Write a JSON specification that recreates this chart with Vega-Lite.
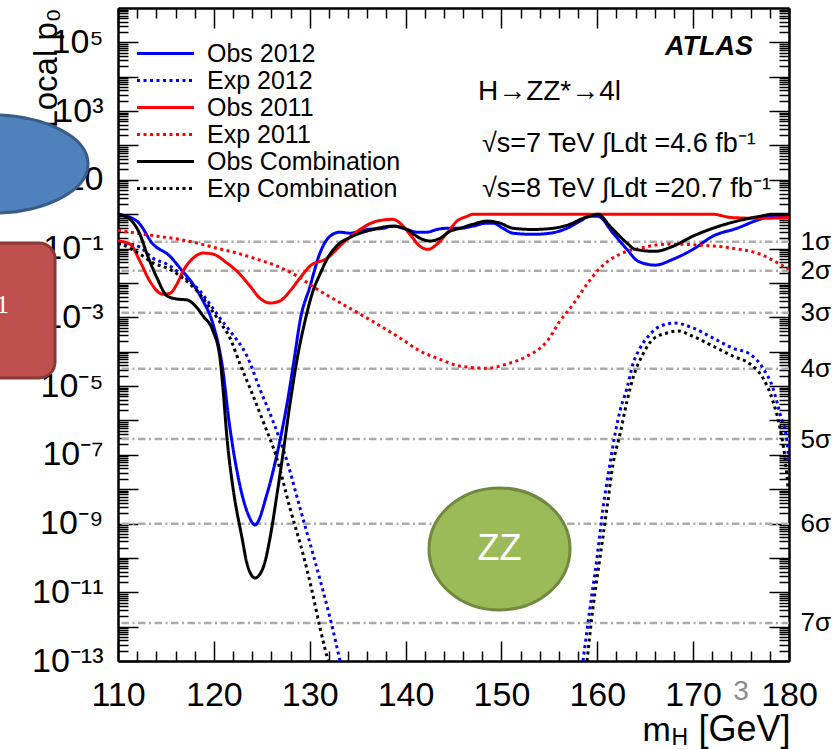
{
  "$schema": "https://vega.github.io/schema/vega-lite/v6.json",
  "autosize": {"type": "none"},
  "padding": {"left": 118, "top": 8, "right": 48, "bottom": 88},
  "width": 671,
  "height": 653,
  "background": "white",
  "config": {
    "view": {"stroke": null},
    "font": "Liberation Sans",
    "axis": {
      "labelFont": "Liberation Sans", "titleFont": "Liberation Sans",
      "labelColor": "#000", "titleColor": "#000", "titleFontWeight": "normal",
      "domainColor": "#000", "domainWidth": 2,
      "tickColor": "#000", "tickWidth": 1.5,
      "grid": false, "labelOverlap": false, "labelFlush": false, "labelBound": false
    }
  },
  "resolve": {"axis": {"x": "independent", "y": "independent"}},
  "layer": [
    {
      "data": {"values": [
        {"sig": "1σ", "p": 0.1587}, {"sig": "2σ", "p": 0.02275}, {"sig": "3σ", "p": 0.00135},
        {"sig": "4σ", "p": 3.167e-5}, {"sig": "5σ", "p": 2.867e-7}, {"sig": "6σ", "p": 9.866e-10},
        {"sig": "7σ", "p": 1.28e-12}
      ]},
      "mark": {"type": "rule", "color": "#ababab", "strokeWidth": 2.5, "strokeDash": [7.5, 3.5, 2, 3.5]},
      "encoding": {
        "y": {
          "field": "p", "type": "quantitative",
          "scale": {"type": "log", "domain": [1e-13, 1e6], "nice": false},
          "axis": {
            "orient": "left",
            "values": [1e-13, 1e-12, 1e-11, 1e-10, 1e-9, 1e-8, 1e-7, 1e-6, 1e-5, 1e-4, 1e-3, 1e-2, 1e-1, 1e0, 1e1, 1e2, 1e3, 1e4, 1e5],
            "tickSize": -20,
            "labelFontSize": 34,
            "labelPadding": 35,
            "labelExpr": "['10⁻¹³','','10⁻¹¹','','10⁻⁹','','10⁻⁷','','10⁻⁵','','10⁻³','','10⁻¹','','10','','10³','','10⁵',''][round(log(datum.value)/LN10)+13]",
            "title": "Local p₀",
            "titleFontSize": 33,
            "titleAngle": 270,
            "titleAlign": "right",
            "titleBaseline": "alphabetic",
            "titleX": -62,
            "titleY": 0
          }
        }
      }
    },
    {
      "data": {"values": [
        {"s": "Obs 2012", "g": 1, "m": 110, "p": 1.0},
        {"s": "Obs 2012", "g": 1, "m": 111.98, "p": 0.63},
        {"s": "Obs 2012", "g": 1, "m": 113.65, "p": 0.135},
        {"s": "Obs 2012", "g": 1, "m": 115.42, "p": 0.06},
        {"s": "Obs 2012", "g": 1, "m": 116.47, "p": 0.027},
        {"s": "Obs 2012", "g": 1, "m": 117.82, "p": 9.3e-3},
        {"s": "Obs 2012", "g": 1, "m": 118.87, "p": 3.0e-3},
        {"s": "Obs 2012", "g": 1, "m": 119.81, "p": 7.8e-4},
        {"s": "Obs 2012", "g": 1, "m": 120.95, "p": 2.8e-5},
        {"s": "Obs 2012", "g": 1, "m": 121.58, "p": 9.5e-7},
        {"s": "Obs 2012", "g": 1, "m": 122.41, "p": 3.4e-8},
        {"s": "Obs 2012", "g": 1, "m": 123.56, "p": 1.9e-9},
        {"s": "Obs 2012", "g": 1, "m": 124.29, "p": 9.1e-10},
        {"s": "Obs 2012", "g": 1, "m": 125.54, "p": 7.2e-9},
        {"s": "Obs 2012", "g": 1, "m": 126.59, "p": 1.05e-7},
        {"s": "Obs 2012", "g": 1, "m": 127.63, "p": 3.0e-6},
        {"s": "Obs 2012", "g": 1, "m": 128.46, "p": 8.5e-5},
        {"s": "Obs 2012", "g": 1, "m": 128.99, "p": 7.8e-4},
        {"s": "Obs 2012", "g": 1, "m": 130.03, "p": 7.9e-3},
        {"s": "Obs 2012", "g": 1, "m": 131.07, "p": 0.074},
        {"s": "Obs 2012", "g": 1, "m": 132.12, "p": 0.23},
        {"s": "Obs 2012", "g": 1, "m": 133.16, "p": 0.30},
        {"s": "Obs 2012", "g": 1, "m": 134.2, "p": 0.28},
        {"s": "Obs 2012", "g": 1, "m": 135.98, "p": 0.36},
        {"s": "Obs 2012", "g": 1, "m": 137.64, "p": 0.39},
        {"s": "Obs 2012", "g": 1, "m": 138.69, "p": 0.45},
        {"s": "Obs 2012", "g": 1, "m": 140.15, "p": 0.36},
        {"s": "Obs 2012", "g": 1, "m": 141.19, "p": 0.30},
        {"s": "Obs 2012", "g": 1, "m": 142.23, "p": 0.30},
        {"s": "Obs 2012", "g": 1, "m": 143.28, "p": 0.36},
        {"s": "Obs 2012", "g": 1, "m": 144.32, "p": 0.39},
        {"s": "Obs 2012", "g": 1, "m": 145.68, "p": 0.39},
        {"s": "Obs 2012", "g": 1, "m": 147.03, "p": 0.45},
        {"s": "Obs 2012", "g": 1, "m": 148.49, "p": 0.55},
        {"s": "Obs 2012", "g": 1, "m": 149.12, "p": 0.55},
        {"s": "Obs 2012", "g": 1, "m": 150.16, "p": 0.39},
        {"s": "Obs 2012", "g": 1, "m": 151.21, "p": 0.28},
        {"s": "Obs 2012", "g": 1, "m": 153.29, "p": 0.26},
        {"s": "Obs 2012", "g": 1, "m": 155.07, "p": 0.28},
        {"s": "Obs 2012", "g": 1, "m": 156.84, "p": 0.39},
        {"s": "Obs 2012", "g": 1, "m": 158.2, "p": 0.63},
        {"s": "Obs 2012", "g": 1, "m": 159.24, "p": 0.87},
        {"s": "Obs 2012", "g": 1, "m": 160.07, "p": 0.87},
        {"s": "Obs 2012", "g": 1, "m": 161.64, "p": 0.28},
        {"s": "Obs 2012", "g": 1, "m": 163.1, "p": 0.095},
        {"s": "Obs 2012", "g": 1, "m": 164.25, "p": 0.043},
        {"s": "Obs 2012", "g": 1, "m": 166.02, "p": 0.033},
        {"s": "Obs 2012", "g": 1, "m": 167.9, "p": 0.049},
        {"s": "Obs 2012", "g": 1, "m": 169.98, "p": 0.095},
        {"s": "Obs 2012", "g": 1, "m": 172.07, "p": 0.23},
        {"s": "Obs 2012", "g": 1, "m": 174.57, "p": 0.39},
        {"s": "Obs 2012", "g": 1, "m": 176.97, "p": 0.71},
        {"s": "Obs 2012", "g": 1, "m": 178.33, "p": 0.87},
        {"s": "Obs 2012", "g": 1, "m": 180, "p": 0.87},

        {"s": "Exp 2012", "g": 1, "m": 110, "p": 0.135},
        {"s": "Exp 2012", "g": 1, "m": 111.25, "p": 0.135},
        {"s": "Exp 2012", "g": 1, "m": 112.29, "p": 0.11},
        {"s": "Exp 2012", "g": 1, "m": 113.65, "p": 0.052},
        {"s": "Exp 2012", "g": 1, "m": 115.11, "p": 0.035},
        {"s": "Exp 2012", "g": 1, "m": 116.47, "p": 0.019},
        {"s": "Exp 2012", "g": 1, "m": 117.51, "p": 0.011},
        {"s": "Exp 2012", "g": 1, "m": 118.55, "p": 5.8e-3},
        {"s": "Exp 2012", "g": 1, "m": 119.6, "p": 2.4e-3},
        {"s": "Exp 2012", "g": 1, "m": 120.64, "p": 9.5e-4},
        {"s": "Exp 2012", "g": 1, "m": 121.68, "p": 4.0e-4},
        {"s": "Exp 2012", "g": 1, "m": 123.46, "p": 7.4e-5},
        {"s": "Exp 2012", "g": 1, "m": 124.81, "p": 8.1e-6},
        {"s": "Exp 2012", "g": 1, "m": 126.17, "p": 9.5e-7},
        {"s": "Exp 2012", "g": 1, "m": 127.63, "p": 6.6e-8},
        {"s": "Exp 2012", "g": 1, "m": 128.99, "p": 2.8e-9},
        {"s": "Exp 2012", "g": 1, "m": 130.34, "p": 1.3e-10},
        {"s": "Exp 2012", "g": 1, "m": 131.39, "p": 1.1e-11},
        {"s": "Exp 2012", "g": 1, "m": 132.12, "p": 1.8e-12},
        {"s": "Exp 2012", "g": 1, "m": 133.16, "p": 1e-13},
        {"s": "Exp 2012", "g": 2, "m": 158.51, "p": 1e-13},
        {"s": "Exp 2012", "g": 2, "m": 159.24, "p": 3.5e-12},
        {"s": "Exp 2012", "g": 2, "m": 159.97, "p": 1e-10},
        {"s": "Exp 2012", "g": 2, "m": 160.6, "p": 2.8e-9},
        {"s": "Exp 2012", "g": 2, "m": 161.32, "p": 5.4e-8},
        {"s": "Exp 2012", "g": 2, "m": 161.85, "p": 4.0e-7},
        {"s": "Exp 2012", "g": 2, "m": 162.37, "p": 1.9e-6},
        {"s": "Exp 2012", "g": 2, "m": 163.1, "p": 8.7e-6},
        {"s": "Exp 2012", "g": 2, "m": 163.72, "p": 4.4e-5},
        {"s": "Exp 2012", "g": 2, "m": 164.45, "p": 1.26e-4},
        {"s": "Exp 2012", "g": 2, "m": 165.5, "p": 3.2e-4},
        {"s": "Exp 2012", "g": 2, "m": 166.54, "p": 5.5e-4},
        {"s": "Exp 2012", "g": 2, "m": 168.1, "p": 6.8e-4},
        {"s": "Exp 2012", "g": 2, "m": 169.98, "p": 4.9e-4},
        {"s": "Exp 2012", "g": 2, "m": 172.07, "p": 2.5e-4},
        {"s": "Exp 2012", "g": 2, "m": 174.16, "p": 1.26e-4},
        {"s": "Exp 2012", "g": 2, "m": 175.93, "p": 8.5e-5},
        {"s": "Exp 2012", "g": 2, "m": 177.29, "p": 3.3e-5},
        {"s": "Exp 2012", "g": 2, "m": 178.33, "p": 8.7e-6},
        {"s": "Exp 2012", "g": 2, "m": 179.06, "p": 1.55e-6},
        {"s": "Exp 2012", "g": 2, "m": 179.79, "p": 2.5e-7},
        {"s": "Exp 2012", "g": 2, "m": 180, "p": 5.4e-8},

        {"s": "Obs 2011", "g": 1, "m": 110, "p": 0.166},
        {"s": "Obs 2011", "g": 1, "m": 111.25, "p": 0.135},
        {"s": "Obs 2011", "g": 1, "m": 112.29, "p": 0.043},
        {"s": "Obs 2011", "g": 1, "m": 113.34, "p": 0.011},
        {"s": "Obs 2011", "g": 1, "m": 114.69, "p": 4.7e-3},
        {"s": "Obs 2011", "g": 1, "m": 115.42, "p": 5.0e-3},
        {"s": "Obs 2011", "g": 1, "m": 116.15, "p": 9.3e-3},
        {"s": "Obs 2011", "g": 1, "m": 116.78, "p": 0.022},
        {"s": "Obs 2011", "g": 1, "m": 117.82, "p": 0.052},
        {"s": "Obs 2011", "g": 1, "m": 118.87, "p": 0.074},
        {"s": "Obs 2011", "g": 1, "m": 119.91, "p": 0.069},
        {"s": "Obs 2011", "g": 1, "m": 121.37, "p": 0.038},
        {"s": "Obs 2011", "g": 1, "m": 122.41, "p": 0.022},
        {"s": "Obs 2011", "g": 1, "m": 123.77, "p": 8.1e-3},
        {"s": "Obs 2011", "g": 1, "m": 124.81, "p": 3.6e-3},
        {"s": "Obs 2011", "g": 1, "m": 125.86, "p": 2.6e-3},
        {"s": "Obs 2011", "g": 1, "m": 126.9, "p": 3.0e-3},
        {"s": "Obs 2011", "g": 1, "m": 127.94, "p": 5.8e-3},
        {"s": "Obs 2011", "g": 1, "m": 128.99, "p": 0.014},
        {"s": "Obs 2011", "g": 1, "m": 130.03, "p": 0.031},
        {"s": "Obs 2011", "g": 1, "m": 131.8, "p": 0.052},
        {"s": "Obs 2011", "g": 1, "m": 133.47, "p": 0.145},
        {"s": "Obs 2011", "g": 1, "m": 135.25, "p": 0.36},
        {"s": "Obs 2011", "g": 1, "m": 137.02, "p": 0.63},
        {"s": "Obs 2011", "g": 1, "m": 138.69, "p": 0.71},
        {"s": "Obs 2011", "g": 1, "m": 139.42, "p": 0.55},
        {"s": "Obs 2011", "g": 1, "m": 140.46, "p": 0.26},
        {"s": "Obs 2011", "g": 1, "m": 141.5, "p": 0.117},
        {"s": "Obs 2011", "g": 1, "m": 142.34, "p": 0.095},
        {"s": "Obs 2011", "g": 1, "m": 143.28, "p": 0.135},
        {"s": "Obs 2011", "g": 1, "m": 144.32, "p": 0.28},
        {"s": "Obs 2011", "g": 1, "m": 145.36, "p": 0.63},
        {"s": "Obs 2011", "g": 1, "m": 146.41, "p": 0.87},
        {"s": "Obs 2011", "g": 1, "m": 147.03, "p": 1.0},
        {"s": "Obs 2011", "g": 1, "m": 172.0, "p": 1.0},
        {"s": "Obs 2011", "g": 1, "m": 174.0, "p": 0.8},
        {"s": "Obs 2011", "g": 1, "m": 177.0, "p": 0.76},
        {"s": "Obs 2011", "g": 1, "m": 180, "p": 0.8},

        {"s": "Exp 2011", "g": 1, "m": 110, "p": 0.34},
        {"s": "Exp 2011", "g": 1, "m": 112, "p": 0.28},
        {"s": "Exp 2011", "g": 1, "m": 114.07, "p": 0.23},
        {"s": "Exp 2011", "g": 1, "m": 116.15, "p": 0.19},
        {"s": "Exp 2011", "g": 1, "m": 118.24, "p": 0.145},
        {"s": "Exp 2011", "g": 1, "m": 120.33, "p": 0.102},
        {"s": "Exp 2011", "g": 1, "m": 122.41, "p": 0.074},
        {"s": "Exp 2011", "g": 1, "m": 124.5, "p": 0.049},
        {"s": "Exp 2011", "g": 1, "m": 126.59, "p": 0.031},
        {"s": "Exp 2011", "g": 1, "m": 128.67, "p": 0.016},
        {"s": "Exp 2011", "g": 1, "m": 130.76, "p": 6.6e-3},
        {"s": "Exp 2011", "g": 1, "m": 132.85, "p": 3.0e-3},
        {"s": "Exp 2011", "g": 1, "m": 135.98, "p": 9.5e-4},
        {"s": "Exp 2011", "g": 1, "m": 139.42, "p": 2.5e-4},
        {"s": "Exp 2011", "g": 1, "m": 141.5, "p": 1.05e-4},
        {"s": "Exp 2011", "g": 1, "m": 143.59, "p": 6.0e-5},
        {"s": "Exp 2011", "g": 1, "m": 145.68, "p": 3.8e-5},
        {"s": "Exp 2011", "g": 1, "m": 148.49, "p": 3.3e-5},
        {"s": "Exp 2011", "g": 1, "m": 150.58, "p": 4.4e-5},
        {"s": "Exp 2011", "g": 1, "m": 152.67, "p": 7.4e-5},
        {"s": "Exp 2011", "g": 1, "m": 154.75, "p": 2.0e-4},
        {"s": "Exp 2011", "g": 1, "m": 156.11, "p": 7.8e-4},
        {"s": "Exp 2011", "g": 1, "m": 157.47, "p": 2.4e-3},
        {"s": "Exp 2011", "g": 1, "m": 158.93, "p": 9.3e-3},
        {"s": "Exp 2011", "g": 1, "m": 160.28, "p": 0.027},
        {"s": "Exp 2011", "g": 1, "m": 162.37, "p": 0.069},
        {"s": "Exp 2011", "g": 1, "m": 164.45, "p": 0.102},
        {"s": "Exp 2011", "g": 1, "m": 167.27, "p": 0.135},
        {"s": "Exp 2011", "g": 1, "m": 170.71, "p": 0.126},
        {"s": "Exp 2011", "g": 1, "m": 174.16, "p": 0.102},
        {"s": "Exp 2011", "g": 1, "m": 176.97, "p": 0.069},
        {"s": "Exp 2011", "g": 1, "m": 179.06, "p": 0.035},
        {"s": "Exp 2011", "g": 1, "m": 180, "p": 0.025},

        {"s": "Obs Combination", "g": 1, "m": 110, "p": 1.0},
        {"s": "Obs Combination", "g": 1, "m": 111.25, "p": 0.71},
        {"s": "Obs Combination", "g": 1, "m": 112.29, "p": 0.26},
        {"s": "Obs Combination", "g": 1, "m": 113.03, "p": 0.069},
        {"s": "Obs Combination", "g": 1, "m": 114.07, "p": 0.014},
        {"s": "Obs Combination", "g": 1, "m": 115.11, "p": 4.2e-3},
        {"s": "Obs Combination", "g": 1, "m": 116.15, "p": 3.4e-3},
        {"s": "Obs Combination", "g": 1, "m": 117.2, "p": 3.2e-3},
        {"s": "Obs Combination", "g": 1, "m": 118.24, "p": 1.9e-3},
        {"s": "Obs Combination", "g": 1, "m": 118.87, "p": 1.1e-3},
        {"s": "Obs Combination", "g": 1, "m": 119.91, "p": 4.0e-4},
        {"s": "Obs Combination", "g": 1, "m": 120.64, "p": 6.5e-5},
        {"s": "Obs Combination", "g": 1, "m": 120.95, "p": 8.7e-6},
        {"s": "Obs Combination", "g": 1, "m": 121.37, "p": 3.1e-7},
        {"s": "Obs Combination", "g": 1, "m": 122.0, "p": 1.07e-8},
        {"s": "Obs Combination", "g": 1, "m": 122.94, "p": 3.8e-10},
        {"s": "Obs Combination", "g": 1, "m": 123.46, "p": 6.8e-11},
        {"s": "Obs Combination", "g": 1, "m": 124.29, "p": 2.6e-11},
        {"s": "Obs Combination", "g": 1, "m": 125.13, "p": 5.1e-11},
        {"s": "Obs Combination", "g": 1, "m": 125.86, "p": 3.8e-10},
        {"s": "Obs Combination", "g": 1, "m": 126.59, "p": 7.2e-9},
        {"s": "Obs Combination", "g": 1, "m": 127.21, "p": 1.05e-7},
        {"s": "Obs Combination", "g": 1, "m": 127.94, "p": 3.0e-6},
        {"s": "Obs Combination", "g": 1, "m": 128.78, "p": 8.5e-5},
        {"s": "Obs Combination", "g": 1, "m": 129.51, "p": 7.8e-4},
        {"s": "Obs Combination", "g": 1, "m": 130.34, "p": 5.8e-3},
        {"s": "Obs Combination", "g": 1, "m": 131.07, "p": 0.018},
        {"s": "Obs Combination", "g": 1, "m": 131.8, "p": 0.049},
        {"s": "Obs Combination", "g": 1, "m": 133.16, "p": 0.145},
        {"s": "Obs Combination", "g": 1, "m": 134.2, "p": 0.21},
        {"s": "Obs Combination", "g": 1, "m": 134.93, "p": 0.26},
        {"s": "Obs Combination", "g": 1, "m": 136.6, "p": 0.36},
        {"s": "Obs Combination", "g": 1, "m": 138.69, "p": 0.45},
        {"s": "Obs Combination", "g": 1, "m": 140.15, "p": 0.36},
        {"s": "Obs Combination", "g": 1, "m": 141.5, "p": 0.20},
        {"s": "Obs Combination", "g": 1, "m": 142.55, "p": 0.166},
        {"s": "Obs Combination", "g": 1, "m": 143.59, "p": 0.20},
        {"s": "Obs Combination", "g": 1, "m": 144.63, "p": 0.32},
        {"s": "Obs Combination", "g": 1, "m": 145.68, "p": 0.39},
        {"s": "Obs Combination", "g": 1, "m": 147.03, "p": 0.51},
        {"s": "Obs Combination", "g": 1, "m": 148.49, "p": 0.63},
        {"s": "Obs Combination", "g": 1, "m": 149.85, "p": 0.55},
        {"s": "Obs Combination", "g": 1, "m": 151.21, "p": 0.39},
        {"s": "Obs Combination", "g": 1, "m": 153.29, "p": 0.36},
        {"s": "Obs Combination", "g": 1, "m": 155.38, "p": 0.39},
        {"s": "Obs Combination", "g": 1, "m": 157.15, "p": 0.51},
        {"s": "Obs Combination", "g": 1, "m": 158.51, "p": 0.76},
        {"s": "Obs Combination", "g": 1, "m": 159.55, "p": 0.93},
        {"s": "Obs Combination", "g": 1, "m": 160.07, "p": 1.0},
        {"s": "Obs Combination", "g": 1, "m": 161.32, "p": 0.45},
        {"s": "Obs Combination", "g": 1, "m": 163.1, "p": 0.145},
        {"s": "Obs Combination", "g": 1, "m": 163.93, "p": 0.095},
        {"s": "Obs Combination", "g": 1, "m": 166.02, "p": 0.083},
        {"s": "Obs Combination", "g": 1, "m": 167.9, "p": 0.117},
        {"s": "Obs Combination", "g": 1, "m": 169.98, "p": 0.23},
        {"s": "Obs Combination", "g": 1, "m": 172.07, "p": 0.39},
        {"s": "Obs Combination", "g": 1, "m": 174.57, "p": 0.63},
        {"s": "Obs Combination", "g": 1, "m": 176.97, "p": 0.87},
        {"s": "Obs Combination", "g": 1, "m": 178.33, "p": 1.0},
        {"s": "Obs Combination", "g": 1, "m": 180, "p": 1.0},

        {"s": "Exp Combination", "g": 1, "m": 110, "p": 0.145},
        {"s": "Exp Combination", "g": 1, "m": 111.25, "p": 0.102},
        {"s": "Exp Combination", "g": 1, "m": 112.29, "p": 0.069},
        {"s": "Exp Combination", "g": 1, "m": 113.65, "p": 0.038},
        {"s": "Exp Combination", "g": 1, "m": 115.11, "p": 0.027},
        {"s": "Exp Combination", "g": 1, "m": 116.47, "p": 0.016},
        {"s": "Exp Combination", "g": 1, "m": 117.51, "p": 9.3e-3},
        {"s": "Exp Combination", "g": 1, "m": 118.55, "p": 4.7e-3},
        {"s": "Exp Combination", "g": 1, "m": 119.6, "p": 1.9e-3},
        {"s": "Exp Combination", "g": 1, "m": 120.64, "p": 7.2e-4},
        {"s": "Exp Combination", "g": 1, "m": 121.68, "p": 2.5e-4},
        {"s": "Exp Combination", "g": 1, "m": 122.73, "p": 4.4e-5},
        {"s": "Exp Combination", "g": 1, "m": 123.77, "p": 8.7e-6},
        {"s": "Exp Combination", "g": 1, "m": 125.13, "p": 9.5e-7},
        {"s": "Exp Combination", "g": 1, "m": 126.59, "p": 7.6e-8},
        {"s": "Exp Combination", "g": 1, "m": 127.94, "p": 2.8e-9},
        {"s": "Exp Combination", "g": 1, "m": 129.3, "p": 1.3e-10},
        {"s": "Exp Combination", "g": 1, "m": 130.24, "p": 1.1e-11},
        {"s": "Exp Combination", "g": 1, "m": 131.07, "p": 9.3e-13},
        {"s": "Exp Combination", "g": 1, "m": 131.91, "p": 1e-13},
        {"s": "Exp Combination", "g": 2, "m": 158.93, "p": 1e-13},
        {"s": "Exp Combination", "g": 2, "m": 159.55, "p": 3.5e-12},
        {"s": "Exp Combination", "g": 2, "m": 160.28, "p": 1e-10},
        {"s": "Exp Combination", "g": 2, "m": 161.01, "p": 2.8e-9},
        {"s": "Exp Combination", "g": 2, "m": 161.64, "p": 5.4e-8},
        {"s": "Exp Combination", "g": 2, "m": 162.37, "p": 4.0e-7},
        {"s": "Exp Combination", "g": 2, "m": 163.1, "p": 3.6e-6},
        {"s": "Exp Combination", "g": 2, "m": 163.72, "p": 1.7e-5},
        {"s": "Exp Combination", "g": 2, "m": 164.77, "p": 8.5e-5},
        {"s": "Exp Combination", "g": 2, "m": 165.81, "p": 2.3e-4},
        {"s": "Exp Combination", "g": 2, "m": 167.27, "p": 3.5e-4},
        {"s": "Exp Combination", "g": 2, "m": 168.42, "p": 4.0e-4},
        {"s": "Exp Combination", "g": 2, "m": 169.98, "p": 2.8e-4},
        {"s": "Exp Combination", "g": 2, "m": 172.07, "p": 1.45e-4},
        {"s": "Exp Combination", "g": 2, "m": 174.16, "p": 7.4e-5},
        {"s": "Exp Combination", "g": 2, "m": 175.93, "p": 4.4e-5},
        {"s": "Exp Combination", "g": 2, "m": 177.29, "p": 1.7e-5},
        {"s": "Exp Combination", "g": 2, "m": 178.33, "p": 3.6e-6},
        {"s": "Exp Combination", "g": 2, "m": 179.06, "p": 6.0e-7},
        {"s": "Exp Combination", "g": 2, "m": 179.58, "p": 8.1e-8},
        {"s": "Exp Combination", "g": 2, "m": 179.9, "p": 1.07e-8}
      ]},
      "mark": {"type": "line", "strokeWidth": 3, "interpolate": "monotone", "clip": true},
      "encoding": {
        "x": {
          "field": "m", "type": "quantitative",
          "scale": {"domain": [110, 180], "nice": false, "zero": false},
          "axis": {
            "orient": "bottom",
            "values": [110, 120, 130, 140, 150, 160, 170, 180],
            "tickSize": -20,
            "labelFontSize": 34,
            "labelPadding": 37,
            "title": "m",
            "titleFontSize": 34,
            "titleAlign": "left",
            "titleBaseline": "alphabetic",
            "titleX": 524,
            "titleY": 79
          }
        },
        "y": {
          "field": "p", "type": "quantitative",
          "scale": {"type": "log", "domain": [1e-13, 1e6], "nice": false},
          "axis": {
            "orient": "left",
            "values": [2e-13,3e-13,4e-13,5e-13,6e-13,7e-13,8e-13,9e-13,2e-12,3e-12,4e-12,5e-12,6e-12,7e-12,8e-12,9e-12,2e-11,3e-11,4e-11,5e-11,6e-11,7e-11,8e-11,9e-11,2e-10,3e-10,4e-10,5e-10,6e-10,7e-10,8e-10,9e-10,2e-9,3e-9,4e-9,5e-9,6e-9,7e-9,8e-9,9e-9,2e-8,3e-8,4e-8,5e-8,6e-8,7e-8,8e-8,9e-8,2e-7,3e-7,4e-7,5e-7,6e-7,7e-7,8e-7,9e-7,2e-6,3e-6,4e-6,5e-6,6e-6,7e-6,8e-6,9e-6,2e-5,3e-5,4e-5,5e-5,6e-5,7e-5,8e-5,9e-5,2e-4,3e-4,4e-4,5e-4,6e-4,7e-4,8e-4,9e-4,2e-3,3e-3,4e-3,5e-3,6e-3,7e-3,8e-3,9e-3,2e-2,3e-2,4e-2,5e-2,6e-2,7e-2,8e-2,9e-2,2e-1,3e-1,4e-1,5e-1,6e-1,7e-1,8e-1,9e-1,2e0,3e0,4e0,5e0,6e0,7e0,8e0,9e0,2e1,3e1,4e1,5e1,6e1,7e1,8e1,9e1,2e2,3e2,4e2,5e2,6e2,7e2,8e2,9e2,2e3,3e3,4e3,5e3,6e3,7e3,8e3,9e3,2e4,3e4,4e4,5e4,6e4,7e4,8e4,9e4,2e5,3e5,4e5,5e5,6e5,7e5,8e5,9e5],
            "tickSize": -10,
            "labels": false,
            "title": null
          }
        },
        "color": {
          "field": "s", "type": "nominal",
          "scale": {
            "domain": ["Obs 2012", "Exp 2012", "Obs 2011", "Exp 2011", "Obs Combination", "Exp Combination"],
            "range": ["#0000ff", "#0000ff", "#ff0000", "#ff0000", "#000000", "#000000"]
          },
          "legend": {
            "orient": "none", "legendX": 20, "legendY": 33, "title": null, "padding": 0,
            "labelFont": "Liberation Sans", "labelFontSize": 25, "labelColor": "#000", "labelLimit": 400,
            "symbolType": "M-3,0H3", "symbolSize": 361, "symbolStrokeWidth": 3,
            "symbolOffset": 15, "labelOffset": 29, "rowPadding": 1
          }
        },
        "strokeDash": {
          "field": "s", "type": "nominal",
          "scale": {
            "domain": ["Obs 2012", "Exp 2012", "Obs 2011", "Exp 2011", "Obs Combination", "Exp Combination"],
            "range": [[1, 0], [3, 3.5], [1, 0], [3, 3.5], [1, 0], [3, 3.5]]
          },
          "legend": {
            "orient": "none", "legendX": 20, "legendY": 33, "title": null, "padding": 0,
            "labelFont": "Liberation Sans", "labelFontSize": 25, "labelColor": "#000", "labelLimit": 400,
            "symbolType": "M-3,0H3", "symbolSize": 361, "symbolStrokeWidth": 3,
            "symbolOffset": 15, "labelOffset": 29, "rowPadding": 1
          }
        },
        "detail": {"field": "g", "type": "nominal"}
      }
    },
    {
      "data": {"values": [{"label": "1"}]},
      "mark": {"type": "rect", "fill": "#C0504D", "stroke": "#8C3836", "strokeWidth": 3, "cornerRadius": 16},
      "encoding": {
        "x": {
          "datum": 94.5, "type": "quantitative",
          "scale": {"domain": [110, 180], "nice": false, "zero": false},
          "axis": {
            "orient": "bottom",
            "values": [112, 114, 116, 118, 122, 124, 126, 128, 132, 134, 136, 138, 142, 144, 146, 148, 152, 154, 156, 158, 162, 164, 166, 168, 172, 174, 176, 178],
            "tickSize": -10, "labels": false,
            "title": "H", "titleFontSize": 23, "titleAlign": "left", "titleBaseline": "alphabetic",
            "titleX": 553, "titleY": 83
          }
        },
        "x2": {"datum": 103.43},
        "y": {
          "datum": 0.146, "type": "quantitative",
          "scale": {"type": "log", "domain": [1e-13, 1e6], "nice": false},
          "axis": {
            "orient": "right",
            "values": [1e-13, 1e-12, 1e-11, 1e-10, 1e-9, 1e-8, 1e-7, 1e-6, 1e-5, 1e-4, 1e-3, 1e-2, 1e-1, 1e0, 1e1, 1e2, 1e3, 1e4, 1e5],
            "tickSize": -20, "labels": false, "title": null
          }
        },
        "y2": {"datum": 1.72e-5}
      }
    },
    {
      "data": {"values": [{"label": "1"}]},
      "mark": {"type": "text", "font": "Liberation Serif", "fontSize": 26, "color": "white", "align": "right", "baseline": "alphabetic"},
      "encoding": {
        "text": {"field": "label"},
        "x": {"datum": 98.63, "type": "quantitative", "scale": {"domain": [110, 180], "nice": false, "zero": false}, "axis": null},
        "y": {"datum": 1.34e-3, "type": "quantitative", "scale": {"type": "log", "domain": [1e-13, 1e6], "nice": false}, "axis": null}
      }
    },
    {
      "data": {"values": [{"label": "ellipse"}]},
      "mark": {
        "type": "point", "shape": "M-1,0A1,0.503,0,1,1,1,0A1,0.503,0,1,1,-1,0Z",
        "size": 38416, "filled": true, "fill": "#4F81BD", "stroke": "#385D8A", "strokeWidth": 3,
        "opacity": 1, "fillOpacity": 1, "strokeOpacity": 1
      },
      "encoding": {
        "x": {
          "datum": 96.65, "type": "quantitative",
          "scale": {"domain": [110, 180], "nice": false, "zero": false},
          "axis": {
            "orient": "top",
            "values": [110, 120, 130, 140, 150, 160, 170, 180],
            "tickSize": -20, "labels": false, "title": null
          }
        },
        "y": {
          "datum": 28.9, "type": "quantitative",
          "scale": {"type": "log", "domain": [1e-13, 1e6], "nice": false},
          "axis": {
            "orient": "right",
            "values": [2e-13,3e-13,4e-13,5e-13,6e-13,7e-13,8e-13,9e-13,2e-12,3e-12,4e-12,5e-12,6e-12,7e-12,8e-12,9e-12,2e-11,3e-11,4e-11,5e-11,6e-11,7e-11,8e-11,9e-11,2e-10,3e-10,4e-10,5e-10,6e-10,7e-10,8e-10,9e-10,2e-9,3e-9,4e-9,5e-9,6e-9,7e-9,8e-9,9e-9,2e-8,3e-8,4e-8,5e-8,6e-8,7e-8,8e-8,9e-8,2e-7,3e-7,4e-7,5e-7,6e-7,7e-7,8e-7,9e-7,2e-6,3e-6,4e-6,5e-6,6e-6,7e-6,8e-6,9e-6,2e-5,3e-5,4e-5,5e-5,6e-5,7e-5,8e-5,9e-5,2e-4,3e-4,4e-4,5e-4,6e-4,7e-4,8e-4,9e-4,2e-3,3e-3,4e-3,5e-3,6e-3,7e-3,8e-3,9e-3,2e-2,3e-2,4e-2,5e-2,6e-2,7e-2,8e-2,9e-2,2e-1,3e-1,4e-1,5e-1,6e-1,7e-1,8e-1,9e-1,2e0,3e0,4e0,5e0,6e0,7e0,8e0,9e0,2e1,3e1,4e1,5e1,6e1,7e1,8e1,9e1,2e2,3e2,4e2,5e2,6e2,7e2,8e2,9e2,2e3,3e3,4e3,5e3,6e3,7e3,8e3,9e3,2e4,3e4,4e4,5e4,6e4,7e4,8e4,9e4,2e5,3e5,4e5,5e5,6e5,7e5,8e5,9e5],
            "tickSize": -10, "labels": false, "title": null
          }
        }
      }
    },
    {
      "data": {"values": [{"label": "ZZ"}]},
      "mark": {
        "type": "point", "shape": "M-1,0A1,0.865,0,1,1,1,0A1,0.865,0,1,1,-1,0Z",
        "size": 19881, "filled": true, "fill": "#9BBB59", "stroke": "#71893F", "strokeWidth": 3,
        "opacity": 1, "fillOpacity": 1, "strokeOpacity": 1
      },
      "encoding": {
        "x": {
          "datum": 149.8, "type": "quantitative",
          "scale": {"domain": [110, 180], "nice": false, "zero": false},
          "axis": {
            "orient": "top",
            "values": [112, 114, 116, 118, 122, 124, 126, 128, 132, 134, 136, 138, 142, 144, 146, 148, 152, 154, 156, 158, 162, 164, 166, 168, 172, 174, 176, 178],
            "tickSize": -10, "labels": false, "title": null
          }
        },
        "y": {
          "datum": 1.82e-10, "type": "quantitative",
          "scale": {"type": "log", "domain": [1e-13, 1e6], "nice": false},
          "axis": {
            "orient": "right",
            "values": [0.1587, 0.02275, 0.00135, 3.167e-5, 2.867e-7, 9.866e-10, 1.28e-12],
            "ticks": false, "domain": false,
            "labelFontSize": 26, "labelPadding": 11, "labelAlign": "left",
            "labelExpr": "datum.value > 0.1 ? '1σ' : datum.value > 0.01 ? '2σ' : datum.value > 1e-3 ? '3σ' : datum.value > 1e-5 ? '4σ' : datum.value > 1e-7 ? '5σ' : datum.value > 1e-10 ? '6σ' : '7σ'",
            "title": null
          }
        }
      }
    },
    {
      "data": {"values": [{"label": "ZZ"}]},
      "mark": {"type": "text", "font": "Liberation Sans", "fontSize": 36, "color": "white", "align": "center", "baseline": "middle"},
      "encoding": {
        "text": {"field": "label"},
        "x": {
          "datum": 149.8, "type": "quantitative",
          "scale": {"domain": [110, 180], "nice": false, "zero": false},
          "axis": {
            "orient": "bottom", "labels": false, "ticks": false, "domain": false,
            "title": "[GeV]", "titleFontSize": 36, "titleAlign": "right", "titleBaseline": "alphabetic",
            "titleX": 672, "titleY": 79
          }
        },
        "y": {"datum": 1.82e-10, "type": "quantitative", "scale": {"type": "log", "domain": [1e-13, 1e6], "nice": false}, "axis": null}
      }
    },
    {
      "data": {"values": [{"label": "3"}]},
      "mark": {"type": "text", "font": "Liberation Sans", "fontSize": 28, "color": "#8c8c8c", "align": "center", "baseline": "middle"},
      "encoding": {
        "text": {"field": "label"},
        "x": {"datum": 174.99, "type": "quantitative", "scale": {"domain": [110, 180], "nice": false, "zero": false}, "axis": null},
        "y": {"datum": 1.26e-14, "type": "quantitative", "scale": {"type": "log", "domain": [1e-13, 1e6], "nice": false}, "axis": null}
      }
    },
    {
      "data": {"values": [{"label": "ATLAS"}]},
      "mark": {"type": "text", "font": "Liberation Sans", "fontSize": 27, "fontStyle": "italic", "fontWeight": "bold", "color": "#000", "align": "right", "baseline": "alphabetic"},
      "encoding": {
        "text": {"field": "label"},
        "x": {"datum": 176.24, "type": "quantitative", "scale": {"domain": [110, 180], "nice": false, "zero": false}, "axis": null},
        "y": {"datum": 4.3e4, "type": "quantitative", "scale": {"type": "log", "domain": [1e-13, 1e6], "nice": false}, "axis": null}
      }
    },
    {
      "data": {"values": [{"label": "H→ZZ*→4l"}]},
      "mark": {"type": "text", "font": "Liberation Sans", "fontSize": 28, "color": "#000", "align": "left", "baseline": "alphabetic"},
      "encoding": {
        "text": {"field": "label"},
        "x": {"datum": 147.55, "type": "quantitative", "scale": {"domain": [110, 180], "nice": false, "zero": false}, "axis": null},
        "y": {"datum": 2.1e3, "type": "quantitative", "scale": {"type": "log", "domain": [1e-13, 1e6], "nice": false}, "axis": null}
      }
    },
    {
      "data": {"values": [{"label": "√s=7 TeV ∫Ldt =4.6 fb⁻¹"}]},
      "mark": {"type": "text", "font": "Liberation Sans", "fontSize": 27, "color": "#000", "align": "left", "baseline": "alphabetic"},
      "encoding": {
        "text": {"field": "label"},
        "x": {"datum": 147.97, "type": "quantitative", "scale": {"domain": [110, 180], "nice": false, "zero": false}, "axis": null},
        "y": {"datum": 64, "type": "quantitative", "scale": {"type": "log", "domain": [1e-13, 1e6], "nice": false}, "axis": null}
      }
    },
    {
      "data": {"values": [{"label": "√s=8 TeV ∫Ldt =20.7 fb⁻¹"}]},
      "mark": {"type": "text", "font": "Liberation Sans", "fontSize": 27, "color": "#000", "align": "left", "baseline": "alphabetic"},
      "encoding": {
        "text": {"field": "label"},
        "x": {"datum": 147.97, "type": "quantitative", "scale": {"domain": [110, 180], "nice": false, "zero": false}, "axis": null},
        "y": {"datum": 3.2, "type": "quantitative", "scale": {"type": "log", "domain": [1e-13, 1e6], "nice": false}, "axis": null}
      }
    }
  ]
}
